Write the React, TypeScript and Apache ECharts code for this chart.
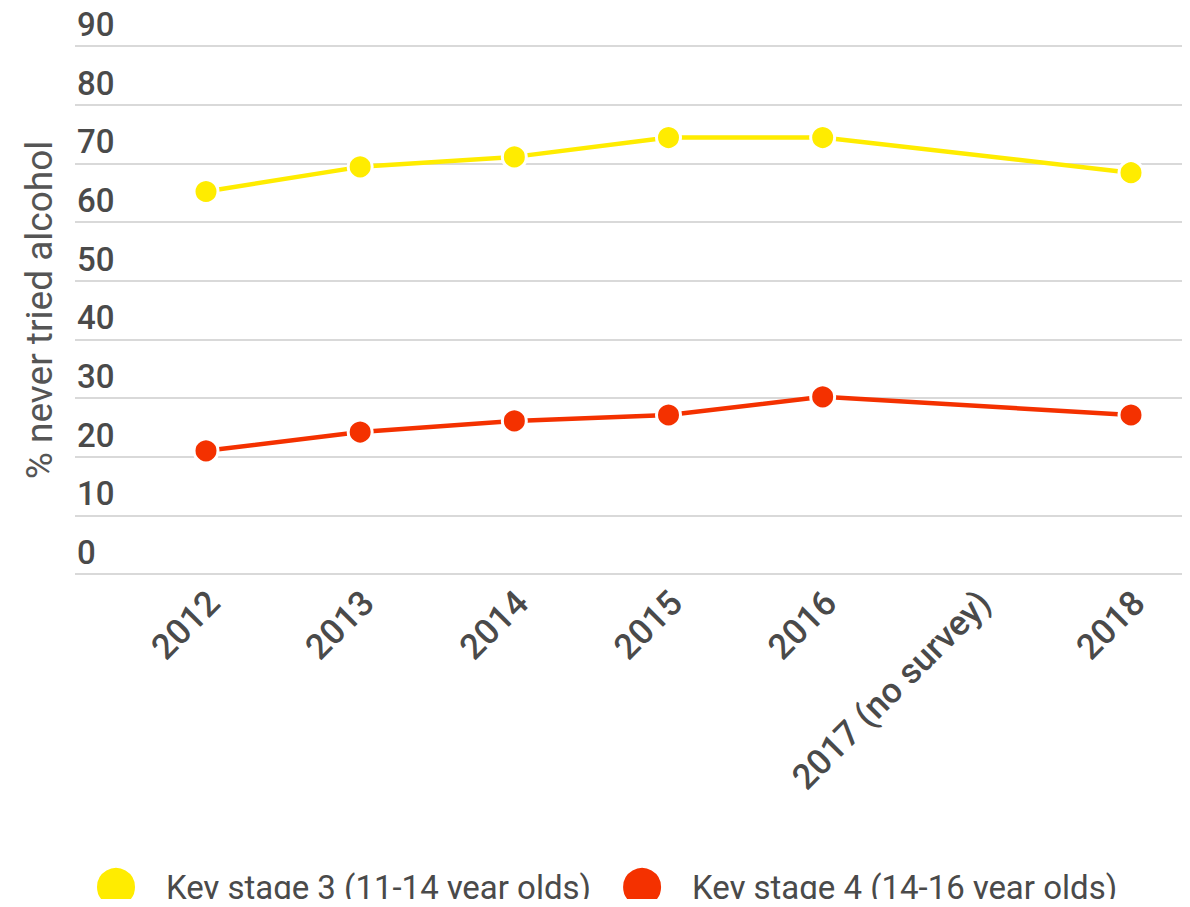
import React, { useEffect, useRef } from "react";
import * as echarts from "echarts";

const categories = ["2012", "2013", "2014", "2015", "2016", "2017 (no survey)", "2018"];
const keyStage3 = [65.2, 69.4, 71.1, 74.4, 74.4, null, 68.4];
const keyStage4 = [21.0, 24.2, 26.1, 27.1, 30.2, null, 27.1];
const yTicks = { min: 0, max: 90, interval: 10 };
const seriesNames = ["Key stage 3 (11-14 year olds)", "Key stage 4 (14-16 year olds)"];
const colors = ["#ffec00", "#f43100"];

export default function App() {
  const ref = useRef<HTMLDivElement>(null);
  useEffect(() => {
    if (!ref.current) return;
    const chart = echarts.init(ref.current, undefined, { renderer: "svg" });
    const font = "Roboto, 'Noto Sans', sans-serif";
    const top = 46;
    const bottom = 333;
    const hiddenX = {
      axisLine: { show: false },
      axisTick: { show: false },
      splitLine: { show: false },
    };
    chart.setOption({
      animation: false,
      grid: [
        { left: 75, right: 5, top, bottom },
        { left: 206, right: 59, top, bottom },
        { left: 214, right: 51, top, bottom },
      ],
      xAxis: [
        { type: "category", gridIndex: 0, data: categories, show: false },
        {
          type: "category",
          gridIndex: 1,
          data: categories,
          boundaryGap: false,
          ...hiddenX,
          axisLabel: { show: false },
        },
        {
          type: "category",
          gridIndex: 2,
          data: categories,
          boundaryGap: false,
          ...hiddenX,
          axisLabel: {
            rotate: 45,
            margin: 23,
            fontSize: 35,
            fontWeight: 500,
            color: "#4a4a4a",
            fontFamily: font,
            interval: 0,
          },
        },
      ],
      yAxis: [
        {
          type: "value",
          gridIndex: 0,
          min: yTicks.min,
          max: yTicks.max,
          interval: yTicks.interval,
          axisLine: { show: false },
          axisTick: { show: false },
          splitLine: { lineStyle: { color: "#d9d9d9", width: 2 } },
          axisLabel: {
            inside: true,
            margin: 2,
            verticalAlign: "bottom",
            padding: [0, 0, 5, 0],
            fontSize: 33,
            fontWeight: 500,
            color: "#4a4a4a",
            fontFamily: font,
          },
          name: "% never tried alcohol",
          nameLocation: "middle",
          nameRotate: 90,
          nameGap: 17,
          nameTextStyle: { fontSize: 37, color: "#555555", fontFamily: font },
        },
        {
          type: "value",
          gridIndex: 1,
          min: yTicks.min,
          max: yTicks.max,
          interval: yTicks.interval,
          show: false,
          splitLine: { show: false },
        },
        {
          type: "value",
          gridIndex: 2,
          min: yTicks.min,
          max: yTicks.max,
          interval: yTicks.interval,
          show: false,
          splitLine: { show: false },
        },
      ],
      legend: {
        top: 866,
        left: 95,
        padding: 0,
        icon: "circle",
        itemWidth: 40,
        itemHeight: 40,
        itemGap: 30,
        data: seriesNames,
        textStyle: {
          fontSize: 33,
          color: "#4a4a4a",
          fontFamily: font,
          padding: [0, 0, 0, 25],
        },
      },
      series: [keyStage3, keyStage4].map((d, i) => ({
        name: seriesNames[i],
        type: "line",
        xAxisIndex: 1,
        yAxisIndex: 1,
        data: d,
        connectNulls: true,
        symbol: "circle",
        symbolSize: 24,
        color: colors[i],
        lineStyle: { color: colors[i], width: 4.5 },
        itemStyle: { color: colors[i], borderColor: "#ffffff", borderWidth: 3 },
      })),
    });
    return () => chart.dispose();
  }, []);
  return <div ref={ref} style={{ width: 1190, height: 907, margin: -8 }} />;
}
